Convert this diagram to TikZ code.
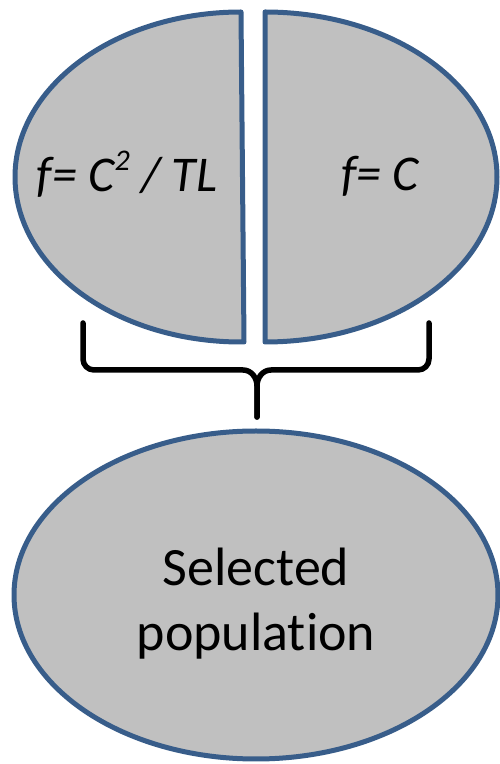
\documentclass[tikz,border=0pt]{standalone}
\usepackage{fontspec}
\setmainfont{Carlito}[Ligatures=NoCommon,RawFeature={-liga;-clig;-calt}]
\definecolor{outl}{RGB}{56,93,138}
\definecolor{fillg}{RGB}{192,192,192}
\begin{document}
\begin{tikzpicture}[x=1pt,y=1pt,
  blob/.style={draw=outl,fill=fillg,line width=5pt,line join=round},
  brace/.style={draw=black,line width=5.5pt,line cap=round,line join=round},
  lbl/.style={inner sep=0pt,anchor=base,text=black}]
\useasboundingbox (0,0) rectangle (500,764);
% left half
\path[blob] (244,422) -- (241,752) arc[start angle=90,end angle=270,x radius=226,y radius=165] -- cycle;
% right half
\path[blob] (265,422) arc[start angle=-90,end angle=90,x radius=232,y radius=165] -- cycle;
% bottom ellipse
\path[blob] (256,169) ellipse[x radius=242,y radius=164];
% texts
\node[lbl] (fl) at (127,572) {\fontsize{50}{60}\selectfont\itshape f= C\raisebox{0.42em}{\fontsize{30}{30}\selectfont 2} / TL};
\node[lbl] (fr) at (380,573) {\fontsize{50}{60}\selectfont\itshape f= C};
\node[inner sep=0pt,align=center,text=black,font=\fontsize{54}{65}\selectfont] (sp) at (256,160) {Selected\\population};
% brace
\coordinate (bl) at (83,441);
\coordinate (br) at (429,441);
\coordinate (tip) at (257,347);
\path[brace] (bl) -- (83,405) to[out=-90,in=180] (94,394) -- (243,394) to[out=0,in=90] (257,378) -- (tip);
\path[brace] (tip) -- (257,378) to[out=90,in=180] (271,394) -- (418,394) to[out=0,in=-90] (429,405) -- (br);
\end{tikzpicture}
\end{document}
